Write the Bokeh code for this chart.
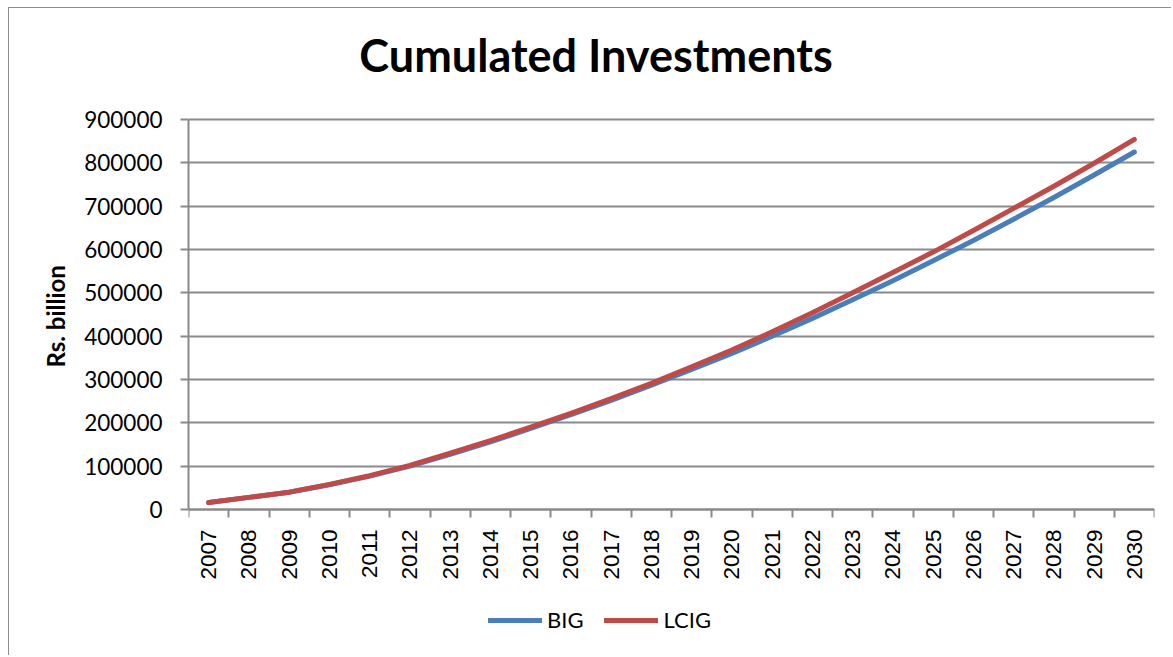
import math
from bokeh.plotting import figure
from bokeh.models import (Range1d, FixedTicker, NumeralTickFormatter, Legend, LegendItem, Title, Label)
from bokeh.embed import file_html
from bokeh.resources import INLINE

# ---- data ----
years = ["2007", "2008", "2009", "2010", "2011", "2012", "2013", "2014", "2015", "2016", "2017", "2018",
         "2019", "2020", "2021", "2022", "2023", "2024", "2025", "2026", "2027", "2028", "2029", "2030"]
big = [16000, 28000, 40000, 57000, 77000, 100000, 127000, 156000, 187000, 219000, 252000, 287000,
       323000, 360000, 400000, 441000, 484000, 528000, 574000, 621000, 670000, 720000, 772000, 825000]
lcig = [16000, 28000, 40000, 58000, 78000, 102000, 130000, 159000, 190000, 222000, 256000, 291000,
        329000, 368000, 410000, 454000, 500000, 547000, 594000, 644000, 695000, 746000, 799000, 854000]
y_ticks = [0, 100000, 200000, 300000, 400000, 500000, 600000, 700000, 800000, 900000]
title_text = "Cumulated  Investments"
y_label = "Rs. billion"
series_names = ["BIG", "LCIG"]

xs = [i + 0.5 for i in range(len(years))]
BLUE = "#4A7EBB"
RED = "#BE4B48"
GRID = "#8a8a8a"

# ---- layout (pixels) ----
H, W = 648, 1163
LEFT, RIGHT, TOP, BOTTOM = 179, 18, 0, 5
FRAME_W = W - LEFT - RIGHT
FRAME_H = H - TOP - BOTTOM
TOP_GAP = 111          # frame top down to the 900000 line
PLOT_H = 390           # 900000 line down to the 0 line
Y_MAX = 900000
unit = Y_MAX / PLOT_H
y_end = Y_MAX + TOP_GAP * unit
y_start = -(FRAME_H - TOP_GAP - PLOT_H) * unit
cat_px = FRAME_W / len(years)

p = figure(width=W, height=H, output_backend="svg", toolbar_location=None,
           x_range=Range1d(0, len(years)), y_range=Range1d(y_start, y_end),
           min_border_left=LEFT, min_border_right=RIGHT, min_border_top=TOP, min_border_bottom=BOTTOM)
p.styles = {"margin-left": "8px", "margin-top": "7px",
            "border-left": "1px solid #8c8c8c", "border-top": "1px solid #8c8c8c"}
p.outline_line_color = None
p.background_fill_color = "white"

# chart title (centred 413px right of the frame's left edge, near the top of the chart)
p.add_layout(Label(x=413 / cat_px, y=455 * unit, text=title_text, text_align="center",
                   text_baseline="alphabetic", text_font="Lato", text_font_size="45px",
                   text_font_style="bold", text_color="black"))

# lines
r_big = p.line(xs, big, line_color=BLUE, line_width=5, line_cap="round", line_join="round")
r_lcig = p.line(xs, lcig, line_color=RED, line_width=5, line_cap="round", line_join="round")

# x axis (sits at value 0)
xa = p.xaxis[0]
xa.fixed_location = 0
xa.ticker = FixedTicker(ticks=xs, minor_ticks=list(range(len(years) + 1)))
xa.major_label_overrides = {x: y for x, y in zip(xs, years)}
xa.major_label_orientation = math.pi / 2
xa.major_tick_out = 0
xa.major_tick_in = 0
xa.minor_tick_out = 8
xa.minor_tick_in = 0
xa.minor_tick_line_color = GRID
xa.minor_tick_line_width = 2
xa.axis_line_color = GRID
xa.axis_line_width = 2
xa.major_label_standoff = 12
xa.major_label_text_font = "Liberation Sans"
xa.major_label_text_font_size = "22.5px"
xa.major_label_text_color = "black"

# y axis
ya = p.yaxis[0]
ya.bounds = (0, Y_MAX)
ya.ticker = FixedTicker(ticks=y_ticks)
ya.formatter = NumeralTickFormatter(format="0")
ya.major_tick_out = 8
ya.major_tick_in = 0
ya.minor_tick_line_color = None
ya.major_tick_line_color = GRID
ya.major_tick_line_width = 2
ya.axis_line_color = GRID
ya.axis_line_width = 2
ya.major_label_standoff = 18
ya.major_label_text_font = "Lato"
ya.major_label_text_font_size = "22.5px"
ya.major_label_text_color = "black"

# y axis title, beside the 0..900000 part of the axis
p.add_layout(Title(text=y_label, align="left", offset=284, vertical_align="bottom", standoff=24,
                   text_font="Lato", text_font_size="24px", text_font_style="bold",
                   text_color="black"), "left")

p.xgrid.grid_line_color = None
p.ygrid.grid_line_color = GRID
p.ygrid.grid_line_width = 2
p.ygrid.ticker = FixedTicker(ticks=y_ticks)

legend = Legend(items=[LegendItem(label=series_names[0], renderers=[r_big]),
                       LegendItem(label=series_names[1], renderers=[r_lcig])],
                location=(300, 18), orientation="horizontal",
                glyph_width=54, glyph_height=20, label_standoff=5, spacing=21,
                padding=0, margin=0, border_line_color=None, background_fill_alpha=0,
                label_text_font="Lato", label_text_font_size="22px", label_text_color="black",
                label_height=20)
p.add_layout(legend, "center")

open("out.html", "w").write(file_html(p, INLINE))
